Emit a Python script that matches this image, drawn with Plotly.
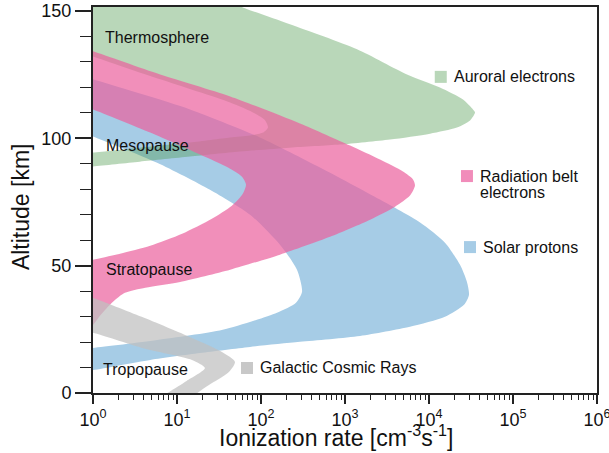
import plotly.graph_objects as go

# Ionization-rate envelopes (rate in cm^-3 s^-1, altitude in km).
# Each source is a band between a strong-event profile (outer edge)
# and a weak-event profile (inner edge); inner edges listed top to bottom.

# Auroral electrons
aur_out_rate = [0.5, 18.8, 64.5, 221, 1390, 5470, 13500, 25400, 33400, 35300, 30800,
                21500, 10300, 3430, 871, 221, 56, 14.3, 3.6, 0.97, 0.7]
aur_out_alt = [170, 158.5, 151.0, 144.7, 134.9, 125.0, 119.9, 115.2, 111.3, 110.1, 107.0,
               104.2, 101.8, 99.5, 97.5, 96.3, 94.8, 92.8, 90.8, 88.9, 88.5]
aur_in_rate = [0.7, 1.0, 6.3, 42.8, 84.8, 112, 121, 106, 74, 43, 14.3, 3.6, 1.0, 0.7]
aur_in_alt = [133.7, 132.1, 123.1, 114.0, 109.7, 107.0, 104.2, 102.2, 101.1, 100.3,
              98.3, 96.3, 94.4, 94.0]

# Radiation belt electrons
rbe_out_rate = [0.7, 1.0, 6.3, 43, 291, 1150, 2610, 4900, 6450, 6810, 5940, 3940, 1990,
                663, 168, 43, 10.9, 4.2, 2.4, 1.73, 1.21, 1.0, 0.7]
rbe_out_alt = [135.7, 134.1, 125.0, 116.4, 105.8, 97.1, 91.6, 86.9, 83.8, 81.4, 77.5,
               73.1, 68.0, 61.3, 54.3, 48.4, 43.6, 41.3, 39.3, 35.8, 30.3, 26.7, 23.6]
rbe_in_rate = [0.7, 1.0, 4.8, 18.8, 40.5, 59.4, 66.3, 61, 45, 26, 11.5, 4.8, 2.1, 1.0, 0.7]
rbe_in_alt = [112.9, 111.3, 102.2, 93.6, 88.5, 84.9, 81.8, 78.3, 73.5, 68.4, 62.5, 57.8,
              54.7, 52.3, 51.5]

# Solar protons
sp_out_rate = [0.7, 1.0, 14.3, 97, 504, 2610, 7820, 15500, 23400, 28300, 29900, 26100,
               15500, 5940, 1510, 291, 74, 18.8, 4.8, 1.0, 0.7]
sp_out_alt = [124.7, 123.1, 111.3, 100.3, 88.5, 75.9, 66.9, 59.0, 50.3, 43.6, 38.5, 34.6,
              29.9, 26.0, 22.4, 20.1, 18.1, 15.7, 13.0, 9.0, 8.3]
sp_in_rate = [0.7, 1.0, 5.8, 24.7, 74, 168, 268, 308, 261, 155, 35, 5.8, 1.0, 0.7]
sp_in_alt = [102.6, 100.7, 90.4, 79.8, 70.0, 58.2, 48.4, 39.7, 35.4, 31.5, 24.8, 20.8,
             17.7, 17.3]

# Galactic cosmic rays
gcr_out_rate = [0.7, 1.0, 3.8, 15.1, 34.3, 49, 40.5, 24, 15.5, 11]
gcr_out_alt = [39.3, 37.4, 29.9, 21.6, 16.1, 12.2, 7.9, 3.1, -1.2, -4.7]
gcr_in_rate = [0.7, 1.0, 3.8, 15.1, 21.5, 13, 6.8, 5.0]
gcr_in_alt = [24.4, 23.6, 17.7, 13.0, 9.8, 4.7, -1.2, -4.7]

x_tick_vals = [1, 10, 100, 1000, 10000, 100000, 1000000]
x_tick_text = ["10<sup>%d</sup>" % i for i in range(7)]
y_tick_vals = [0, 50, 100, 150]

FONT = "Liberation Sans, Arial, Helvetica, sans-serif"

sources = [
    # name, outer rate, outer alt, inner rate, inner alt, fill, swatch colour
    ("Solar protons", sp_out_rate, sp_out_alt, sp_in_rate, sp_in_alt,
     "rgba(166,204,230,1)", "#a6cce6"),
    ("Auroral electrons", aur_out_rate, aur_out_alt, aur_in_rate, aur_in_alt,
     "rgba(80,155,80,0.4)", "#b9d7b9"),
    ("Radiation belt electrons", rbe_out_rate, rbe_out_alt, rbe_in_rate, rbe_in_alt,
     "rgba(235,95,156,0.7)", "#f18cba"),
    ("Galactic Cosmic Rays", gcr_out_rate, gcr_out_alt, gcr_in_rate, gcr_in_alt,
     "rgba(192,192,192,0.73)", "#c8c8c8"),
]

fig = go.Figure()
for name, orate, oalt, irate, ialt, fill, _ in sources:
    fig.add_trace(go.Scatter(
        x=list(orate) + list(irate)[::-1],
        y=list(oalt) + list(ialt)[::-1],
        mode="lines", fill="toself", fillcolor=fill,
        line=dict(width=0, shape="spline", smoothing=0.7),
        name=name, showlegend=False, hoverinfo="skip",
    ))

# In-plot labels for the atmospheric layers
layer_labels = [
    ("Thermosphere", 0.020, 0.922),
    ("Mesopause", 0.022, 0.640),
    ("Stratopause", 0.022, 0.321),
    ("Tropopause", 0.016, 0.062),
]
annotations = []
for text, px, py in layer_labels:
    annotations.append(dict(text=text, x=px, y=py, xref="paper", yref="paper",
                            xanchor="left", yanchor="middle", showarrow=False,
                            font=dict(family=FONT, size=16, color="#111")))

# Source key: colour swatch plus text, placed beside each band
key_items = [
    ("Auroral electrons", 0.690, 0.819, sources[1][6]),
    ("Radiation belt", 0.742, 0.562, sources[2][6]),
    ("Solar protons", 0.748, 0.378, sources[0][6]),
    ("Galactic Cosmic Rays", 0.3056, 0.0648, sources[3][6]),
]
shapes = []
for text, sx, sy, col in key_items:
    shapes.append(dict(type="rect", xref="paper", yref="paper",
                       xsizemode="pixel", ysizemode="pixel",
                       xanchor=sx, yanchor=sy, x0=-6, x1=6, y0=-6, y1=6,
                       fillcolor=col, line=dict(width=0)))
    annotations.append(dict(text=text, x=sx, y=sy, xref="paper", yref="paper",
                            xanchor="left", yanchor="middle", xshift=11,
                            showarrow=False,
                            font=dict(family=FONT, size=16, color="#111")))
annotations.append(dict(text="electrons", x=0.742, y=0.520, xref="paper", yref="paper",
                        xanchor="left", yanchor="middle", xshift=11, showarrow=False,
                        font=dict(family=FONT, size=16, color="#111")))

# Axis titles
annotations.append(dict(text="Ionization rate [cm<sup>-3</sup>s<sup>-1</sup>]",
                        x=0.482, y=-0.112, xref="paper", yref="paper",
                        xanchor="center", yanchor="middle", showarrow=False,
                        font=dict(family=FONT, size=23, color="#111")))
annotations.append(dict(text="Altitude [km]", x=-0.143, y=0.484,
                        xref="paper", yref="paper", textangle=-90,
                        xanchor="center", yanchor="middle", showarrow=False,
                        font=dict(family=FONT, size=23, color="#111")))

minor_x = [m * 10 ** d for d in range(6) for m in range(2, 10)]

fig.update_layout(
    width=609, height=453,
    margin=dict(l=93, r=12, t=7, b=60),
    paper_bgcolor="white", plot_bgcolor="white",
    annotations=annotations, shapes=shapes,
    xaxis=dict(type="log", range=[0, 6], tickmode="array",
               tickvals=x_tick_vals, ticktext=x_tick_text,
               ticklabeloverflow="allow", automargin=False,
               ticks="outside", ticklen=9, tickwidth=1.5, tickcolor="#222",
               minor=dict(tickmode="array", tickvals=minor_x, ticks="outside",
                          ticklen=5, tickwidth=1, tickcolor="#222"),
               showline=True, linewidth=2, linecolor="#222", mirror=True,
               showgrid=False, zeroline=False,
               tickfont=dict(family=FONT, size=18, color="#111")),
    yaxis=dict(range=[0, 151.5], tickmode="array", tickvals=y_tick_vals,
               automargin=False,
               ticks="outside", ticklen=16, tickwidth=1.5, tickcolor="#222",
               minor=dict(dtick=10, tick0=0, ticks="outside", ticklen=11,
                          tickwidth=1, tickcolor="#222"),
               showline=True, linewidth=2, linecolor="#222", mirror=True,
               showgrid=False, zeroline=False,
               tickfont=dict(family=FONT, size=18, color="#111")),
)

fig.write_html("out.html")
